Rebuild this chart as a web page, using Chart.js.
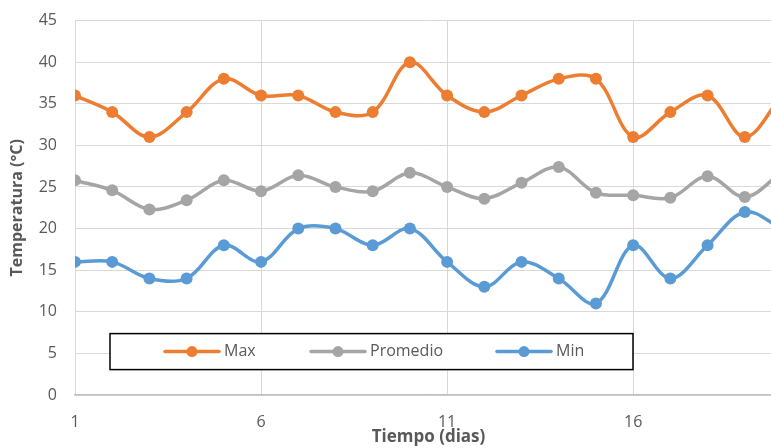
<!DOCTYPE html>
<html>
<head>
<meta charset="utf-8">
<script src="https://cdn.jsdelivr.net/npm/chart.js@4"></script>
<style>
html,body{margin:0;padding:0;background:#fff;overflow:hidden;width:771px;height:448px;position:relative;}
#wrap{position:absolute;left:0;top:-7px;width:793px;height:455px;}
</style>
</head>
<body>
<div id="wrap"><canvas id="c" width="793" height="455"></canvas></div>
<script>
const days = [1,2,3,4,5,6,7,8,9,10,11,12,13,14,15,16,17,18,19,20];
const maxVals = [36,34,31,34,38,36,36,34,34,40,36,34,36,38,38,31,34,36,31,36];
const avgVals = [25.8,24.6,22.3,23.4,25.8,24.5,26.4,25.0,24.5,26.7,25.0,23.6,25.5,27.4,24.3,24.0,23.7,26.3,23.8,26.8];
const minVals = [16,16,14,14,18,16,20,20,18,20,16,13,16,14,11,18,14,18,22,20];
const xTicks = [1,6,11,16];
const yTicks = [0,5,10,15,20,25,30,35,40,45];
const seriesNames = ['Max','Promedio','Min'];
const colors = ['#ED7D31','#A5A5A5','#5B9BD5'];

const toPts = arr => days.map((d,i)=>({x:d,y:arr[i]}));
const FONT = '"Open Sans", sans-serif';
const TXT = '#595959';

const legendBox = {
  id:'legendBox',
  afterDraw(chart){
    const ctx = chart.ctx, a = chart.chartArea;
    const L = a.left + 35, T = a.top + 313, W = 523, H = 36;
    ctx.save();
    ctx.fillStyle = '#fff';
    ctx.fillRect(L,T,W,H);
    ctx.lineWidth = 1.5;
    ctx.strokeStyle = '#000';
    ctx.strokeRect(L,T,W,H);
    const starts = [L+55, L+201, L+387];
    const cy = T + H/2;
    chart.data.datasets.forEach((ds,i)=>{
      const sx = starts[i];
      ctx.strokeStyle = ds.borderColor;
      ctx.lineWidth = 3.5;
      ctx.lineCap = 'round';
      ctx.beginPath(); ctx.moveTo(sx,cy); ctx.lineTo(sx+54,cy); ctx.stroke();
      ctx.fillStyle = ds.borderColor;
      ctx.beginPath(); ctx.arc(sx+27,cy,5.5,0,Math.PI*2); ctx.fill();
      ctx.fillStyle = TXT;
      ctx.font = '16px ' + FONT;
      ctx.textBaseline = 'middle';
      ctx.textAlign = 'left';
      ctx.fillText(ds.label, sx+59, cy);
    });
    ctx.restore();
  }
};

new Chart(document.getElementById('c'), {
  type:'line',
  data:{
    datasets: [maxVals,avgVals,minVals].map((v,i)=>({
      label: seriesNames[i],
      data: toPts(v),
      borderColor: colors[i],
      backgroundColor: colors[i],
      borderWidth: 3.5,
      pointRadius: 6,
      pointBorderWidth: 0,
      pointBackgroundColor: colors[i],
      tension: 0.35,
      fill:false
    }))
  },
  options:{
    responsive:false,
    animation:false,
    events:[],
    layout:{padding:{top:13,right:11,left:0,bottom:0}},
    plugins:{legend:{display:false},tooltip:{enabled:false},title:{display:false}},
    scales:{
      x:{
        type:'linear', min:1, max:20,
        afterBuildTicks: s => { s.ticks = xTicks.map(v=>({value:v})); },
        afterFit: s => { s.height = 53; },
        grid:{color:'#d9d9d9', lineWidth:1, drawTicks:false},
        border:{display:true, color:'#bfbfbf', width:1.5},
        ticks:{color:TXT, font:{family:FONT,size:16}, padding:18, maxRotation:0, autoSkip:false},
        title:{display:true, text:'Tiempo (dias)', color:TXT, font:{family:FONT,size:17,weight:'bold'}, padding:{top:0,bottom:1}}
      },
      y:{
        min:0, max:45,
        afterBuildTicks: s => { s.ticks = yTicks.map(v=>({value:v})); },
        afterFit: s => { s.width = 75; },
        grid:{color:'#d9d9d9', lineWidth:1, drawTicks:false},
        border:{display:false},
        ticks:{color:TXT, font:{family:FONT,size:16}, padding:18},
        title:{display:true, text:'Temperatura (°C)', color:TXT, font:{family:FONT,size:16,weight:'bold'}, padding:{top:8,bottom:0}}
      }
    }
  },
  plugins:[legendBox]
});
</script>
</body>
</html>
